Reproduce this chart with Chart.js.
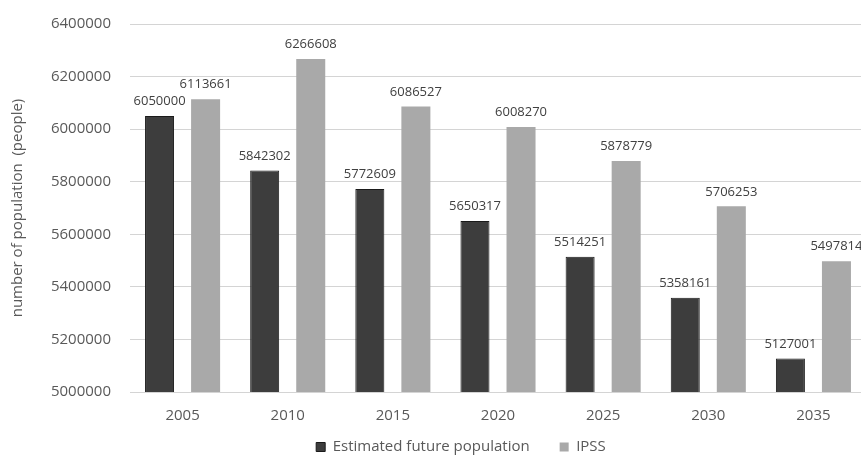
<!DOCTYPE html>
<html>
<head>
<meta charset="utf-8">
<script src="https://cdn.jsdelivr.net/npm/chart.js@4/dist/chart.umd.min.js"></script>
<style>
  html, body { margin: 0; padding: 0; background: #fff; overflow: hidden; }
  #wrap { position: relative; width: 866px; height: 458px; }
</style>
</head>
<body>
<div id="wrap"><canvas id="popChart"></canvas></div>
<script>
const years = ['2005', '2010', '2015', '2020', '2025', '2030', '2035'];
const estimated = [6050000, 5842302, 5772609, 5650317, 5514251, 5358161, 5127001];
const ipss = [6113661, 6266608, 6086527, 6008270, 5878779, 5706253, 5497814];
const yTicks = [5000000, 5200000, 5400000, 5600000, 5800000, 6000000, 6200000, 6400000];

const FONT = "'Open Sans', 'DejaVu Sans', sans-serif";
const GREY = '#595959';
const LEGEND_PAD = 30;
const LEGEND_FONT = 15;
const PLOT_TOP = 24;
const PLOT_BOTTOM = 392;

// values printed above each bar
const barValues = {
  id: 'barValues',
  afterDatasetsDraw(chart) {
    const ctx = chart.ctx;
    ctx.save();
    ctx.font = '13px ' + FONT;
    ctx.fillStyle = '#404040';
    ctx.textAlign = 'center';
    ctx.textBaseline = 'bottom';
    chart.data.datasets.forEach((ds, i) => {
      chart.getDatasetMeta(i).data.forEach((bar, j) => {
        ctx.fillText(String(ds.data[j]), bar.x, bar.y - 8);
      });
    });
    ctx.restore();
  }
};

// pin the plot band and move the legend to where it sits in the original
const fixLayout = {
  id: 'fixLayout',
  afterLayout(chart) {
    const y = chart.scales.y;
    y.top = PLOT_TOP;
    y.bottom = PLOT_BOTTOM;
    y.height = PLOT_BOTTOM - PLOT_TOP;
    y.configure();
    chart.chartArea.top = PLOT_TOP;
    chart.chartArea.bottom = PLOT_BOTTOM;
    chart.chartArea.height = PLOT_BOTTOM - PLOT_TOP;

    const lg = chart.legend;
    lg.left += 28;
    lg.right += 28;
    lg.top = 447 - LEGEND_FONT / 2 - LEGEND_PAD;
    lg.bottom = chart.height;
  }
};

const ctx = document.getElementById('popChart').getContext('2d');
const chart = new Chart(ctx, {
  type: 'bar',
  data: {
    labels: years,
    datasets: [
      {
        label: 'Estimated future population',
        data: estimated,
        backgroundColor: '#3d3d3d',
        borderColor: '#1a1a1a',
        borderWidth: 1,
        categoryPercentage: 0.876,
        barPercentage: 0.63
      },
      {
        label: 'IPSS',
        data: ipss,
        backgroundColor: '#a9a9a9',
        borderWidth: 0,
        categoryPercentage: 0.876,
        barPercentage: 0.63
      }
    ]
  },
  options: {
    responsive: true,
    maintainAspectRatio: false,
    animation: false,
    layout: { autoPadding: false, padding: { left: 0, right: 0, top: 24, bottom: 0 } },
    plugins: {
      legend: {
        position: 'bottom',
        maxHeight: 28,
        labels: {
          font: { family: FONT, size: LEGEND_FONT },
          color: GREY,
          boxWidth: 9,
          boxHeight: 9,
          padding: LEGEND_PAD
        }
      },
      tooltip: { enabled: false }
    },
    scales: {
      x: {
        afterFit(scale) { scale.height = 38; },
        grid: { display: false, drawTicks: false },
        border: { display: false },
        ticks: { font: { family: FONT, size: 15 }, color: GREY, padding: 15 }
      },
      y: {
        min: 5000000,
        max: 6400000,
        afterFit(scale) { scale.width = 130; },
        afterBuildTicks(scale) { scale.ticks = yTicks.map(v => ({ value: v })); },
        grid: { color: '#d4d4d4', drawTicks: false },
        border: { display: false },
        title: {
          display: true,
          text: 'number of population  (people)',
          font: { family: FONT, size: 15 },
          color: GREY,
          padding: { top: 9, bottom: 0 }
        },
        ticks: {
          font: { family: FONT, size: 15 },
          color: GREY,
          padding: 19,
          callback: (v) => String(v)
        }
      }
    }
  },
  plugins: [barValues, fixLayout]
});
</script>
</body>
</html>
